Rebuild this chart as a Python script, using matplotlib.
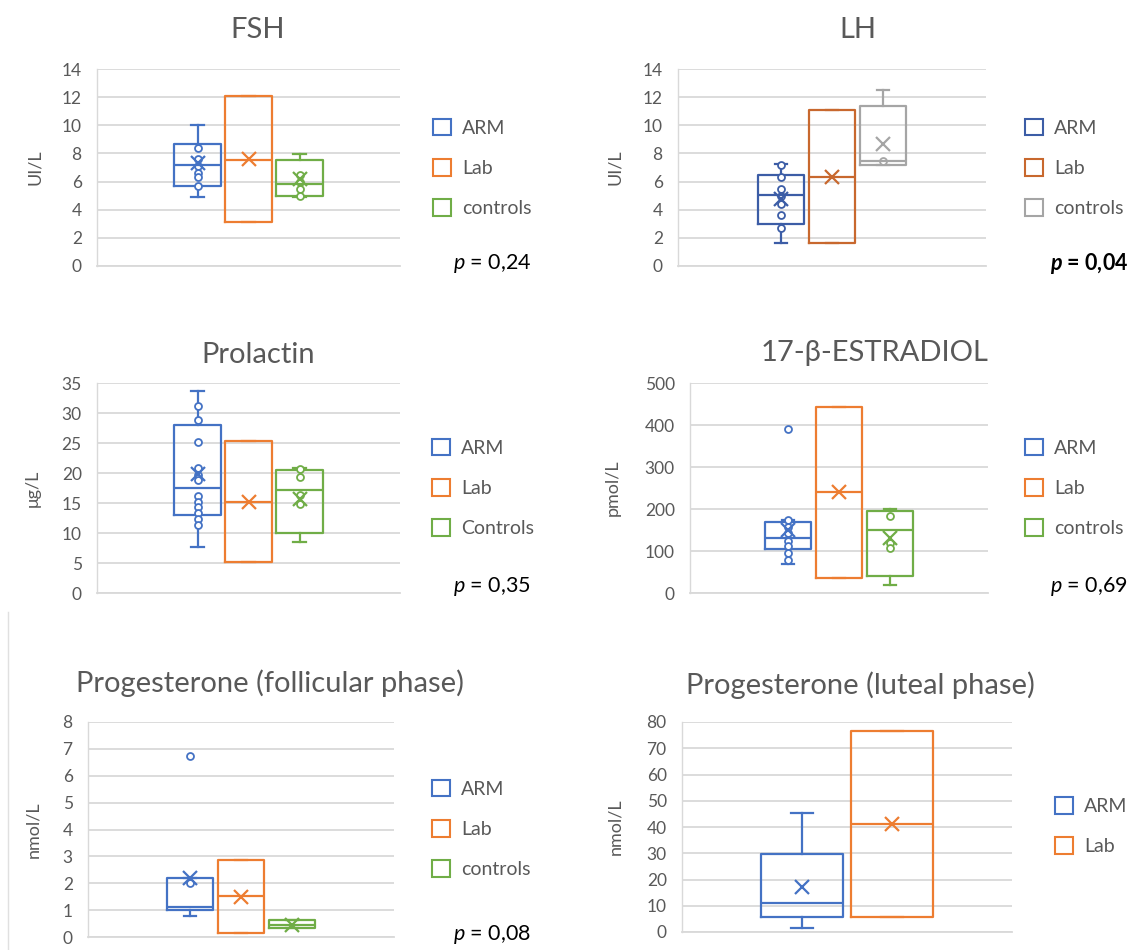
import matplotlib
matplotlib.use("Agg")
import matplotlib.pyplot as plt
from matplotlib.patches import Patch
from matplotlib.lines import Line2D

plt.rcParams['font.family'] = ['Lato', 'DejaVu Sans']
plt.rcParams['mathtext.fontset'] = 'custom'
plt.rcParams['mathtext.it'] = 'Lato:italic'
plt.rcParams['mathtext.rm'] = 'Lato'
plt.rcParams['mathtext.bfit'] = 'Lato:italic:bold'

W, H = 1135, 950
TXT = '#595959'
GRID = '#D9D9D9'
BLUE, ORANGE, GREEN, GREY = '#4472C4', '#ED7D31', '#70AD47', '#A5A5A5'

# ---- data ----
# FSH (UI/L): ARM, Lab, controls
fsh_groups = ['ARM', 'Lab', 'controls']
fsh_low = [4.9, 3.1, 4.9]
fsh_q1 = [5.65, 3.1, 5.0]
fsh_med = [7.2, 7.55, 5.85]
fsh_q3 = [8.65, 12.05, 7.5]
fsh_high = [10.0, 12.05, 7.95]
fsh_mean = [7.3, 7.6, 6.2]
fsh_pts = [[8.4, 7.6, 7.1, 6.6, 6.35, 5.65], [], [6.45, 5.95, 5.5, 4.95]]

# LH (UI/L)
lh_groups = ['ARM', 'Lab', 'controls']
lh_low = [1.65, 1.65, 7.17]
lh_q1 = [2.95, 1.65, 7.17]
lh_med = [5.05, 6.33, 7.45]
lh_q3 = [6.5, 11.1, 11.4]
lh_high = [7.25, 11.1, 12.5]
lh_mean = [4.75, 6.3, 8.7]
lh_pts = [[7.2, 6.3, 5.5, 5.0, 4.4, 3.6, 2.7], [], [7.45]]

# Prolactin (ug/L)
prl_groups = ['ARM', 'Lab', 'Controls']
prl_low = [7.75, 5.15, 8.5]
prl_q1 = [13.0, 5.15, 10.0]
prl_med = [17.5, 15.2, 17.1]
prl_q3 = [28.0, 25.4, 20.5]
prl_high = [33.6, 25.4, 20.9]
prl_mean = [19.9, 15.1, 15.6]
prl_pts = [[31.2, 28.9, 25.2, 20.8, 19.7, 18.8, 16.1, 15.2, 14.4, 13.3, 12.3, 11.3], [],
           [20.7, 19.4, 16.3, 14.8]]

# 17-beta-estradiol (pmol/L)
e2_groups = ['ARM', 'Lab', 'controls']
e2_low = [69, 36, 20]
e2_q1 = [104, 36, 41]
e2_med = [132, 240, 149]
e2_q3 = [169, 443, 196]
e2_high = [174, 443, 201]
e2_mean = [150, 240, 132]
e2_pts = [[391, 174, 158, 142, 123, 111, 95, 79], [], [184, 120, 107]]

# Progesterone follicular phase (nmol/L)
pf_groups = ['ARM', 'Lab', 'controls']
pf_low = [0.77, 0.16, 0.34]
pf_q1 = [1.0, 0.16, 0.34]
pf_med = [1.12, 1.52, 0.46]
pf_q3 = [2.2, 2.86, 0.62]
pf_high = [2.2, 2.86, 0.62]
pf_mean = [2.2, 1.5, 0.46]
pf_pts = [[6.75, 2.0], [], []]

# Progesterone luteal phase (nmol/L)
pl_groups = ['ARM', 'Lab']
pl_low = [1.7, 5.7]
pl_q1 = [5.7, 5.7]
pl_med = [11.1, 41.1]
pl_q3 = [29.9, 76.4]
pl_high = [45.5, 76.4]
pl_mean = [17.2, 41.1]
pl_pts = [[], []]


def px_rect(x0, y0, x1, y1):
    return [x0 / W, 1 - y1 / H, (x1 - x0) / W, (y1 - y0) / H]


fig = plt.figure(figsize=(W / 100, H / 100), dpi=100)


def panel(box_px, title, title_xy, ylabel, ylab_xy, ymax, ystep, groups, colors,
          low, q1, med, q3, high, mean, pts, leg_xy, ptxt=None, p_xy=None, bold=False):
    ax = fig.add_axes(px_rect(*box_px))
    n = len(groups)
    stats = []
    for i in range(n):
        stats.append(dict(whislo=low[i], q1=q1[i], med=med[i], q3=q3[i], whishi=high[i],
                          mean=mean[i], fliers=pts[i]))
    pos = list(range(1, n + 1))
    res = ax.bxp(stats, positions=pos, widths=0.92, capwidths=0.25, showmeans=True,
                 boxprops=dict(linewidth=1.6), medianprops=dict(linewidth=1.6),
                 whiskerprops=dict(linewidth=1.6), capprops=dict(linewidth=1.6),
                 meanprops=dict(marker='x', markersize=9.5, markeredgewidth=1.6),
                 flierprops=dict(marker='o', markersize=5, markerfacecolor='white',
                                 markeredgewidth=1.3, linestyle='none'))
    for i, c in enumerate(colors):
        res['boxes'][i].set_color(c)
        res['medians'][i].set_color(c)
        for k in (2 * i, 2 * i + 1):
            res['whiskers'][k].set_color(c)
            res['caps'][k].set_color(c)
        res['fliers'][i].set_markeredgecolor(c)
        res['means'][i].set_markeredgecolor(c)
        res['means'][i].set_markerfacecolor(c)

    # each box slot is one unit; the plot area leaves room on both sides
    px_w = box_px[2] - box_px[0]
    slot_px = 51 if n == 3 else 90
    half = px_w / slot_px / 2
    mid = (n + 1) / 2
    ax.set_xlim(mid - half, mid + half)
    ax.set_ylim(0, ymax)
    ticks = [ystep * k for k in range(int(round(ymax / ystep)) + 1)]
    ax.set_yticks(ticks)
    ax.set_xticks([])
    ax.grid(axis='y', color=GRID, linewidth=1.3)
    ax.set_axisbelow(True)
    for s in ('top', 'right'):
        ax.spines[s].set_visible(False)
    ax.spines['left'].set_color(GRID)
    ax.spines['bottom'].set_color(GRID)
    ax.spines['left'].set_linewidth(1.0)
    ax.spines['bottom'].set_linewidth(1.3)
    ax.tick_params(axis='y', length=0, labelsize=12.5, labelcolor=TXT, pad=11)

    fig.text(title_xy[0] / W, 1 - title_xy[1] / H, title, ha='center', va='center',
             fontsize=21, color=TXT)
    fig.text(ylab_xy[0] / W, 1 - ylab_xy[1] / H, ylabel, ha='center', va='center',
             rotation=90, fontsize=13, color=TXT)

    handles = [Patch(facecolor='white', edgecolor=c, linewidth=1.5) for c in colors]
    leg = fig.legend(handles, groups, loc='center left',
                     bbox_to_anchor=(leg_xy[0] / W, 1 - leg_xy[1] / H),
                     frameon=False, fontsize=14, handlelength=0.95, handleheight=0.95,
                     handletextpad=0.55, labelspacing=1.15, borderpad=0, borderaxespad=0)
    for t in leg.get_texts():
        t.set_color(TXT)

    if ptxt is not None:
        if bold:
            s = r'$\mathbfit{p}$ = ' + ptxt
            fig.text(p_xy[0] / W, 1 - p_xy[1] / H, s, ha='left', va='center',
                     fontsize=15.5, color='black', fontweight='bold')
        else:
            s = r'$p$ = ' + ptxt
            fig.text(p_xy[0] / W, 1 - p_xy[1] / H, s, ha='left', va='center',
                     fontsize=15.5, color='black')
    return ax


panel((97, 69, 400, 266), 'FSH', (258, 30), 'UI/L', (35, 167), 14, 2,
      fsh_groups, [BLUE, ORANGE, GREEN],
      fsh_low, fsh_q1, fsh_med, fsh_q3, fsh_high, fsh_mean, fsh_pts,
      (433, 168), '0,24', (453, 264))

panel((678, 69, 986, 266), 'LH', (858, 30), 'UI/L', (615, 167), 14, 2,
      lh_groups, ['#3C5DA6', '#C8682E', GREY],
      lh_low, lh_q1, lh_med, lh_q3, lh_high, lh_mean, lh_pts,
      (1025, 168), '0,04', (1050, 264), bold=True)

panel((97, 383, 400, 593), 'Prolactin', (258, 355), 'μg/L', (33, 488), 35, 5,
      prl_groups, [BLUE, ORANGE, GREEN],
      prl_low, prl_q1, prl_med, prl_q3, prl_high, prl_mean, prl_pts,
      (432, 488), '0,35', (453, 587))

panel((690, 383, 988, 593), '17-β-ESTRADIOL', (875, 353), 'pmol/L', (613, 488), 500, 100,
      e2_groups, [BLUE, ORANGE, GREEN],
      e2_low, e2_q1, e2_med, e2_q3, e2_high, e2_mean, e2_pts,
      (1025, 488), '0,69', (1050, 587))

panel((88, 722, 394, 937), 'Progesterone (follicular phase)', (270, 683), 'nmol/L', (33, 830),
      8, 1, pf_groups, [BLUE, ORANGE, GREEN],
      pf_low, pf_q1, pf_med, pf_q3, pf_high, pf_mean, pf_pts,
      (432, 829), '0,08', (453, 935))

panel((682, 722, 1012, 932), 'Progesterone (luteal phase)', (860, 685), 'nmol/L', (615, 827),
      80, 10, pl_groups, [BLUE, ORANGE],
      pl_low, pl_q1, pl_med, pl_q3, pl_high, pl_mean, pl_pts,
      (1055, 826))

# faint border of the lower-left chart area
fig.add_artist(Line2D([8 / W, 8 / W], [1 - 612 / H, 0], color='#E0E0E0', linewidth=1.0))

fig.savefig('out.png', dpi=100)
